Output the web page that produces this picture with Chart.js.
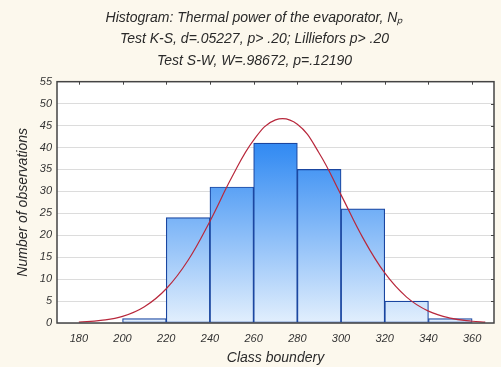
<!DOCTYPE html>
<html>
<head>
<meta charset="utf-8">
<script src="https://cdn.jsdelivr.net/npm/chart.js@4"></script>
<style>
  html, body { margin: 0; padding: 0; background: #fcf8ed; }
  #wrap { width: 501px; height: 367px; }
</style>
</head>
<body>
<div id="wrap"><canvas id="chart"></canvas></div>
<script>
// class boundaries (bin centres) and counts
const binCentres = [210, 230, 250, 270, 290, 310, 330, 350];
const binCounts = [1, 24, 31, 41, 35, 26, 5, 1];

// fitted normal curve
const curveX = [180, 190, 200, 210, 220, 230, 240, 250, 260, 270, 280, 290, 300, 310, 320, 330, 340, 350, 360, 366];
const curveY = [0.2, 0.6, 1.5, 3.7, 7.8, 14.3, 23.2, 33.2, 41.7, 46.3, 45.3, 38.7, 29.2, 19.4, 11.4, 5.9, 2.7, 1.1, 0.4, 0.2];

const xTicks = [180, 200, 220, 240, 260, 280, 300, 320, 340, 360];

const font = "'Liberation Sans', Arial, sans-serif";

const barFill = (context) => {
  const { chart } = context;
  const area = chart.chartArea;
  if (!area) return "#5aa6f5";
  const g = chart.ctx.createLinearGradient(0, area.top, 0, area.bottom);
  g.addColorStop(0, "#0f6fee");
  g.addColorStop(0.3, "#3a8ff3");
  g.addColorStop(1, "#e2effd");
  return g;
};

const frame = {
  id: "frame",
  beforeDraw(chart) {
    const { ctx, chartArea: a } = chart;
    ctx.save();
    ctx.fillStyle = "#ffffff";
    ctx.fillRect(a.left, a.top, a.right - a.left, a.bottom - a.top);
    ctx.restore();
  },
  afterDraw(chart) {
    const { ctx, chartArea: a } = chart;
    ctx.save();
    ctx.strokeStyle = "#444444";
    ctx.lineWidth = 1.5;
    ctx.strokeRect(a.left, a.top, a.right - a.left, a.bottom - a.top);
    // small ticks on top and right borders
    ctx.lineWidth = 1;
    const xs = chart.scales.x;
    xTicks.forEach((v) => {
      const px = Math.round(xs.getPixelForValue(v)) + 0.5;
      ctx.beginPath();
      ctx.moveTo(px, a.top);
      ctx.lineTo(px, a.top + 3);
      ctx.stroke();
    });
    const ys = chart.scales.y;
    for (let v = 5; v < 55; v += 5) {
      const py = Math.round(ys.getPixelForValue(v)) + 0.5;
      ctx.beginPath();
      ctx.moveTo(a.right - 3, py);
      ctx.lineTo(a.right, py);
      ctx.stroke();
    }
    ctx.restore();
  }
};

new Chart(document.getElementById("chart"), {
  data: {
    datasets: [
      {
        type: "line",
        data: curveX.map((x, i) => ({ x: x, y: curveY[i] })),
        borderColor: "#b8283c",
        borderWidth: 1.2,
        pointRadius: 0,
        tension: 0.4,
        fill: false,
        order: 0
      },
      {
        type: "bar",
        data: binCentres.map((x, i) => ({ x: x, y: binCounts[i] })),
        backgroundColor: barFill,
        borderColor: "#1a46a0",
        borderWidth: 1.2,
        borderSkipped: false,
        barPercentage: 1,
        categoryPercentage: 1,
        order: 1
      }
    ]
  },
  options: {
    responsive: true,
    maintainAspectRatio: false,
    animation: false,
    layout: { padding: { left: 15, right: 7, top: 0, bottom: 0 } },
    plugins: {
      legend: { display: false },
      tooltip: { enabled: false },
      title: {
        display: true,
        text: [
          "Histogram: Thermal power of the evaporator, Nₚ",
          "Test K-S, d=.05227, p> .20; Lilliefors p> .20",
          "Test S-W, W=.98672, p=.12190"
        ],
        color: "#2a2a2a",
        font: { family: font, size: 14, style: "italic", weight: "normal", lineHeight: 1.54 },
        padding: { top: 7, bottom: 10 }
      }
    },
    scales: {
      x: {
        type: "linear",
        min: 170,
        max: 370,
        offset: false,
        afterBuildTicks: (scale) => { scale.ticks = xTicks.map((v) => ({ value: v })); },
        afterFit: (scale) => { scale.height = 44; },
        grid: { display: false, drawTicks: false },
        border: { display: false },
        ticks: {
          color: "#333333",
          font: { family: font, size: 11, style: "italic" },
          padding: 9,
          maxRotation: 0
        },
        title: {
          display: true,
          text: "Class boundery",
          color: "#2a2a2a",
          font: { family: font, size: 14, style: "italic" },
          padding: { top: 0, bottom: 0 }
        }
      },
      y: {
        min: 0,
        max: 55,
        afterFit: (scale) => { scale.width = 42; },
        grid: { color: "#dcdcdc", lineWidth: 1, drawTicks: false },
        border: { display: false },
        ticks: {
          stepSize: 5,
          color: "#333333",
          font: { family: font, size: 11, style: "italic" },
          padding: 5
        },
        title: {
          display: true,
          text: "Number of observations",
          color: "#2a2a2a",
          font: { family: font, size: 14, style: "italic" },
          padding: { top: 0, bottom: 6 }
        }
      }
    }
  },
  plugins: [frame]
});
</script>
</body>
</html>
